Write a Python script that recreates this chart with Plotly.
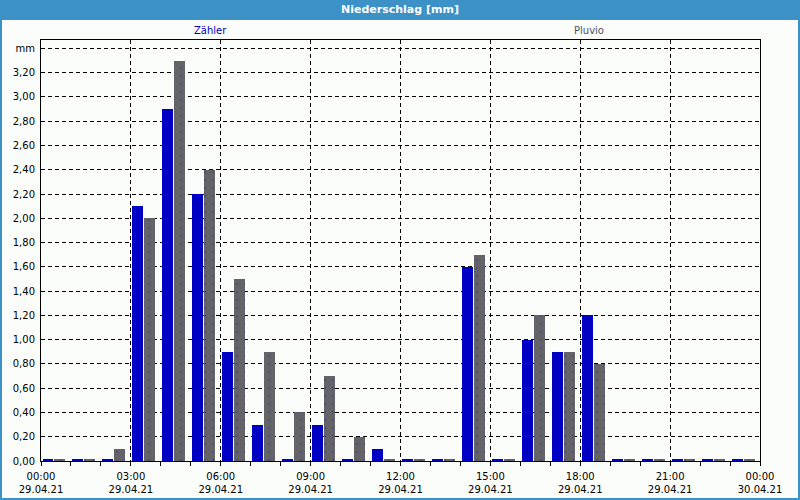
import plotly.graph_objects as go

hours = [f"2021-04-29 {h:02d}:00" for h in range(24)]
zaehler = [0.01, 0.01, 0.01, 2.1, 2.9, 2.2, 0.9, 0.3, 0.01, 0.3, 0.01, 0.1,
           0.01, 0.01, 1.6, 0.01, 1.0, 0.9, 1.2, 0.01, 0.01, 0.01, 0.01, 0.01]
pluvio = [0.01, 0.01, 0.1, 2.0, 3.3, 2.4, 1.5, 0.9, 0.4, 0.7, 0.2, 0.01,
          0.01, 0.01, 1.7, 0.01, 1.2, 0.9, 0.8, 0.01, 0.01, 0.01, 0.01, 0.01]
x_tickvals = ["2021-04-29 00:00", "2021-04-29 03:00", "2021-04-29 06:00", "2021-04-29 09:00",
              "2021-04-29 12:00", "2021-04-29 15:00", "2021-04-29 18:00", "2021-04-29 21:00",
              "2021-04-30 00:00"]
x_ticktext = ["00:00<br>29.04.21", "03:00<br>29.04.21", "06:00<br>29.04.21", "09:00<br>29.04.21",
              "12:00<br>29.04.21", "15:00<br>29.04.21", "18:00<br>29.04.21", "21:00<br>29.04.21",
              "00:00<br>30.04.21"]
y_tickvals = [round(0.2 * i, 1) for i in range(18)]
y_ticktext = [f"{v:.2f}".replace(".", ",") for v in y_tickvals[:-1]] + ["mm"]

MS_PER_PX = 3600000 / 30.0
W, H = 800, 500
ML, MR, MT, MB = 41, 40, 40, 39
PW, PH = W - ML - MR, H - MT - MB

def px_x(p):
    return (p - ML) / PW

def px_y(p):
    return (H - MB - p) / PH

fig = go.Figure()
fig.add_trace(go.Bar(x=hours, y=zaehler, name="Zähler",
                     marker=dict(color="#0000C4", line=dict(width=0)),
                     offset=1.5 * MS_PER_PX, width=11 * MS_PER_PX))
fig.add_trace(go.Bar(x=hours, y=pluvio, name="Pluvio",
                     marker=dict(color="#646468", line=dict(width=0),
                                 pattern=dict(shape=".", fgcolor="#3a3a90", bgcolor="#646468",
                                              size=8, solidity=0.08)),
                     offset=13.5 * MS_PER_PX, width=11 * MS_PER_PX))

bg = "#FBFDFB"
fig.update_layout(
    width=W, height=H,
    margin=dict(l=ML, r=MR, t=MT, b=MB, autoexpand=False),
    paper_bgcolor="#3C91C6", plot_bgcolor=bg,
    showlegend=False, bargap=0,
    font=dict(family="DejaVu Sans", size=10, color="#000000"),
    xaxis=dict(type="date", range=["2021-04-29 00:00", "2021-04-30 00:00"],
               tickvals=x_tickvals, ticktext=x_ticktext, automargin=False,
               showgrid=True, gridcolor="#000000", griddash="4px,3px", gridwidth=1,
               ticks="outside", ticklen=4, tickcolor="#000000",
               minor=dict(dtick=3600000, tick0="2021-04-29 00:00", ticks="outside",
                          ticklen=4, tickcolor="#000000", showgrid=False),
               showline=True, mirror=True, linecolor="#000000", linewidth=1,
               zeroline=False, tickfont=dict(size=10), ticklabelstandoff=2),
    yaxis=dict(range=[0, 3.469], tickvals=y_tickvals, ticktext=y_ticktext, automargin=False,
               showgrid=True, gridcolor="#000000", griddash="4px,3px", gridwidth=1,
               ticks="", showline=True, mirror=True, linecolor="#000000", linewidth=1,
               zeroline=False, tickfont=dict(size=10), ticklabelstandoff=3),
    shapes=[
        dict(type="rect", xref="paper", yref="paper", layer="below",
             x0=px_x(2), x1=px_x(798), y0=px_y(498), y1=px_y(20),
             fillcolor=bg, line=dict(width=0)),
    ],
    annotations=[
        dict(text="<b>Niederschlag [mm]</b>", xref="paper", yref="paper",
             x=px_x(400), y=px_y(10), showarrow=False, xanchor="center", yanchor="middle",
             font=dict(color="#FFFFFF", size=11, family="DejaVu Sans")),
        dict(text="Zähler", xref="paper", yref="paper",
             x=px_x(210), y=px_y(31), showarrow=False, xanchor="center", yanchor="middle",
             font=dict(color="#0000C4", size=10)),
        dict(text="Pluvio", xref="paper", yref="paper",
             x=px_x(589), y=px_y(31), showarrow=False, xanchor="center", yanchor="middle",
             font=dict(color="#505060", size=10)),
    ],
)

fig.write_html("out.html")
